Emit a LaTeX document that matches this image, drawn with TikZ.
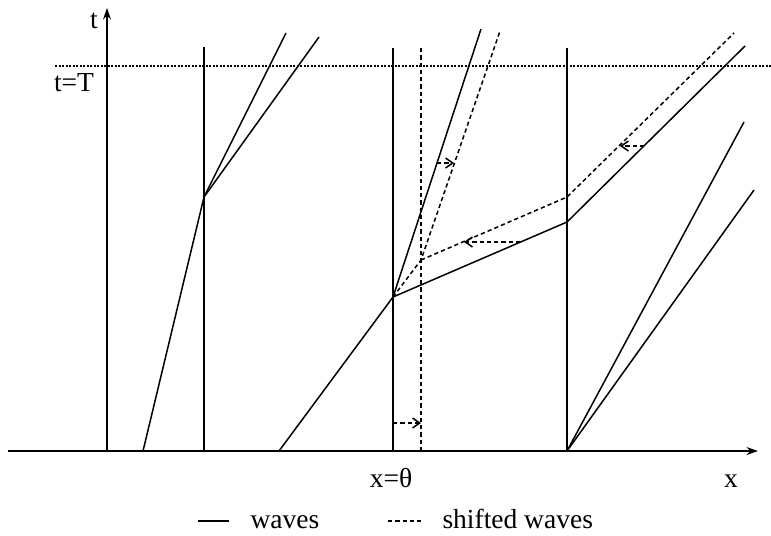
\documentclass[tikz,border=0pt]{standalone}
\usepackage{fontspec}
\setmainfont{Liberation Serif}
\usetikzlibrary{arrows.meta}

\begin{document}
\begin{tikzpicture}[
  x=0.4pt, y=-0.4pt,
  font=\fontsize{11}{13}\selectfont,
  >={Stealth[length=1.6mm,width=1.1mm]},
  axis/.style={->, line width=0.9pt},
  wave/.style={line width=0.6pt},
  shifted/.style={line width=0.6pt, dash pattern=on 1.7pt off 1.2pt},
  level/.style={line width=0.5pt, dash pattern=on 0.9pt off 0.5pt},
  shiftarrow/.style={shifted, -{Straight Barb[length=1mm,width=1.4mm]}},
  lbl/.style={inner sep=0pt, anchor=base}
]
\path[use as bounding box] (0,0) rectangle (771,535);

% Axes
\coordinate (xs) at (8,451);
\coordinate (xe) at (758,451);
\coordinate (t0) at (107,451);
\coordinate (te) at (107,8);
\draw[axis] (xs) -- (xe);
\draw[axis, line width=0.8pt] (t0) -- (te);
\node[lbl] (tlab) at (94,28) {t};
\node[lbl] (xlab) at (731,487) {x};

% Level t=T
\coordinate (Tl) at (55,66);
\coordinate (Tr) at (771,66);
\draw[level] (Tl) -- (Tr);
\node[lbl] (Tlab) at (74,91) {t=T};

% Interfaces
\coordinate (v1b) at (204,451);
\coordinate (v1t) at (204,47);
\coordinate (v2b) at (393,451);
\coordinate (v2t) at (393,48);
\coordinate (v3b) at (567,451);
\coordinate (v3t) at (567,48);
\coordinate (s1b) at (421,451);
\coordinate (s1t) at (421,48);
\draw[wave] (v1b) -- (v1t);
\draw[wave] (v2b) -- (v2t);
\draw[wave] (v3b) -- (v3t);
\draw[shifted] (s1b) -- (s1t);
\node[lbl] (thlab) at (391,487) {x=θ};

% Waves
\coordinate (a0) at (143,451);
\coordinate (a1) at (204,197);
\coordinate (a2) at (286,33);
\coordinate (a3) at (319,37);
\draw[wave] (a0) -- (a1) -- (a2);
\draw[wave] (a1) -- (a3);

\coordinate (b0) at (279,451);
\coordinate (b1) at (393,297);
\coordinate (b2) at (481,29);
\coordinate (c1) at (567,222);
\coordinate (c2) at (745,46);
\draw[wave] (b0) -- (b1) -- (b2);
\draw[wave] (b1) -- (c1) -- (c2);

\coordinate (e1) at (744,122);
\coordinate (e2) at (754,190);
\draw[wave] (v3b) -- (e1);
\draw[wave] (v3b) -- (e2);

% Shifted waves
\coordinate (d1) at (421,260);
\coordinate (d2) at (500,31);
\coordinate (d3) at (567,197);
\coordinate (d4) at (734,33);
\draw[shifted] (b1) -- (d1) -- (d2);
\draw[shifted] (d1) -- (d3) -- (d4);

% Shifts
\coordinate (h1a) at (393,423);
\coordinate (h1b) at (421,423);
\coordinate (h2a) at (520,242);
\coordinate (h2b) at (464,242);
\coordinate (h3a) at (644,146);
\coordinate (h3b) at (620,146);
\coordinate (h4a) at (437,163);
\coordinate (h4b) at (454,163);
\draw[shiftarrow] (h1a) -- (h1b);
\draw[shiftarrow] (h2a) -- (h2b);
\draw[shiftarrow] (h3a) -- (h3b);
\draw[shiftarrow] (h4a) -- (h4b);

% Legend
\node[lbl, anchor=base west] (lw) at (250,528) {waves};
\node[lbl, anchor=base west] (ls) at (442,528) {shifted waves};
\coordinate (lw0) at (198,521);
\coordinate (lw1) at (229,521);
\coordinate (ls0) at (388,521);
\coordinate (ls1) at (423,521);
\draw[wave] (lw0) -- (lw1);
\draw[shifted] (ls0) -- (ls1);
\end{tikzpicture}
\end{document}
